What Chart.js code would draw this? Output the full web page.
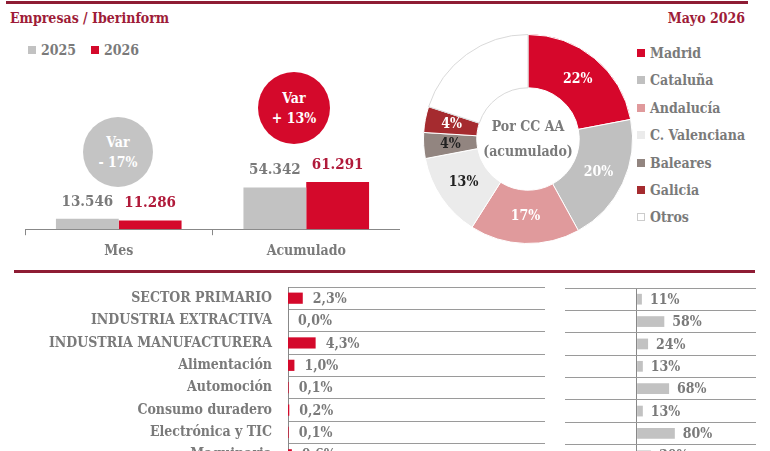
<!DOCTYPE html>
<html>
<head>
<meta charset="utf-8">
<script src="https://cdn.jsdelivr.net/npm/chart.js@4.4.1/dist/chart.umd.min.js"></script>
<style>
  body { margin: 0; width: 770px; height: 451px; overflow: hidden; background: #fff; position: relative;
         font-family: "DejaVu Serif Condensed", "DejaVu Serif", serif; font-weight: bold; color: #777; }
  .rule { position: absolute; height: 3px; background: #8e1c34; }
  .title { position: absolute; top: 10px; font-size: 14px; color: #9e1c38; white-space: nowrap; }
  .legend-item { position: absolute; font-size: 14px; color: #7a7a7a; line-height: 16px; white-space: nowrap; }
  .legend-item i { display: inline-block; width: 8px; height: 8px; margin-right: 5px; vertical-align: 1px; }
  .var { position: absolute; border-radius: 50%; color: #fff; font-size: 14px; text-align: center;
         display: flex; flex-direction: column; justify-content: center; line-height: 20px; }
  canvas { position: absolute; }
</style>
</head>
<body>
<div class="rule" style="left:6px; top:1px; width:742px;"></div>
<div class="title" style="left:10px;">Empresas / Iberinform</div>
<div class="title" style="right:25px;">Mayo 2026</div>

<div class="legend-item" style="left:28px; top:42px;"><i style="background:#c2c2c2"></i>2025</div>
<div class="legend-item" style="left:91px; top:42px;"><i style="background:#d4092b"></i>2026</div>

<div id="var0" class="var" style="left:83px; top:117px; width:70px; height:70px; background:#c4c4c4;"></div>
<div id="var1" class="var" style="left:258px; top:72px; width:72px; height:72px; background:#d4092b;"></div>

<canvas id="bars" width="400" height="208" style="left:0; top:60px;"></canvas>
<canvas id="donut" width="210" height="210" style="left:423px; top:34px;"></canvas>
<div id="regionLegend"></div>

<div class="rule" style="left:14px; top:270px; width:741px;"></div>

<canvas id="sectors" width="550" height="190" style="left:0; top:280px;"></canvas>
<canvas id="variation" width="195" height="190" style="left:565px; top:280px;"></canvas>

<script>
// Mes / Acumulado
const periodLabels = ["Mes", "Acumulado"];
const values2025 = [13546, 54342];
const values2026 = [11286, 61291];
const varLabels = ["- 17%", "+ 13%"];

// Por CC AA (acumulado)
const regionLabels = ["Madrid", "Cataluña", "Andalucía", "C. Valenciana", "Baleares", "Galicia", "Otros"];
const regionShares = [22, 20, 17, 13, 4, 4, 20];

// Sectores
const sectorLabels = ["SECTOR PRIMARIO", "INDUSTRIA EXTRACTIVA", "INDUSTRIA MANUFACTURERA", "Alimentación",
                      "Automoción", "Consumo duradero", "Electrónica y TIC", "Maquinaria"];
const sectorShares = [2.3, 0.0, 4.3, 1.0, 0.1, 0.2, 0.1, 0.6];
const sectorVariation = [11, 58, 24, 13, 68, 13, 80, 30];

const FONT = '"DejaVu Serif Condensed", "DejaVu Serif", serif';
const RED = "#d4092b";
const GRAY = "#c2c2c2";
const TEXT = "#7a7a7a";

function thousands(v) {
    return String(v).replace(/\B(?=(\d{3})+(?!\d))/g, ".");
}

// Var circles
document.getElementById("var0").innerHTML = "<div>Var</div><div>" + varLabels[0] + "</div>";
document.getElementById("var1").innerHTML = "<div>Var</div><div>" + varLabels[1] + "</div>";

// Value labels above the vertical bars
const barValueLabels = {
    id: "barValueLabels",
    afterDatasetsDraw(chart) {
        const ctx = chart.ctx;
        ctx.save();
        ctx.font = "bold 15px " + FONT;
        ctx.textAlign = "center";
        ctx.textBaseline = "middle";
        chart.data.datasets.forEach((ds, i) => {
            chart.getDatasetMeta(i).data.forEach((bar, j) => {
                ctx.fillStyle = ds.valueColor;
                ctx.fillText(thousands(ds.data[j]), bar.x, bar.y - 17);
            });
        });
        ctx.restore();
    }
};

new Chart(document.getElementById("bars"), {
    type: "bar",
    data: {
        labels: periodLabels,
        datasets: [
            { label: "2025", data: values2025, backgroundColor: GRAY, valueColor: TEXT },
            { label: "2026", data: values2026, backgroundColor: RED, valueColor: "#b01a3a" }
        ]
    },
    options: {
        responsive: false,
        animation: false,
        devicePixelRatio: 1,
        layout: { padding: { left: 25, right: 0, top: 0, bottom: 0 } },
        datasets: { bar: { categoryPercentage: 0.67, barPercentage: 1 } },
        plugins: { legend: { display: false }, tooltip: { enabled: false } },
        scales: {
            x: {
                grid: { display: true, drawOnChartArea: false, offset: true, tickLength: 6, color: "#888" },
                border: { color: "#888" },
                ticks: { color: TEXT, padding: 8, font: { family: FONT, size: 14, weight: "bold" } }
            },
            y: { display: false, min: 0, max: 220000 }
        }
    },
    plugins: [barValueLabels]
});

// Doughnut
const sliceColors = ["#d6072b", "#c0c0c0", "#e09a9c", "#ebebeb", "#928580", "#a52b2f", "#ffffff"];
const sliceBorders = ["#fff", "#fff", "#fff", "#fff", "#fff", "#fff", "#d9d9d9"];
const sliceTextColors = ["#fff", "#fff", "#fff", "#222", "#222", "#fff", null];

const sliceLabels = {
    id: "sliceLabels",
    afterDatasetsDraw(chart) {
        const ctx = chart.ctx;
        ctx.save();
        ctx.font = "bold 14px " + FONT;
        ctx.textAlign = "center";
        ctx.textBaseline = "middle";
        chart.getDatasetMeta(0).data.forEach((arc, i) => {
            if (!sliceTextColors[i]) return;
            const p = arc.getCenterPoint();
            ctx.fillStyle = sliceTextColors[i];
            ctx.fillText(regionShares[i] + "%", p.x, p.y);
        });
        const a = chart.chartArea;
        const cx = (a.left + a.right) / 2, cy = (a.top + a.bottom) / 2;
        ctx.fillStyle = TEXT;
        ctx.fillText("Por CC AA", cx, cy - 12);
        ctx.fillText("(acumulado)", cx, cy + 13);
        ctx.restore();
    }
};

new Chart(document.getElementById("donut"), {
    type: "doughnut",
    data: {
        labels: regionLabels,
        datasets: [{ data: regionShares, backgroundColor: sliceColors, borderColor: sliceBorders, borderWidth: 1 }]
    },
    options: {
        responsive: false,
        animation: false,
        devicePixelRatio: 1,
        cutout: "49%",
        plugins: { legend: { display: false }, tooltip: { enabled: false } }
    },
    plugins: [sliceLabels]
});

// Region legend
const legendBox = document.getElementById("regionLegend");
regionLabels.forEach((name, i) => {
    const el = document.createElement("div");
    el.className = "legend-item";
    el.style.left = "637px";
    el.style.top = (45 + i * 27.4) + "px";
    const border = i === regionLabels.length - 1 ? "border:1px solid #ccc; width:6px; height:6px;" : "";
    el.innerHTML = '<i style="background:' + sliceColors[i] + ';' + border + '"></i>' + name;
    legendBox.appendChild(el);
});

// Horizontal bar value labels
function hbarLabels(format, offset) {
    return {
        id: "hbarLabels",
        afterDatasetsDraw(chart) {
            const ctx = chart.ctx;
            ctx.save();
            ctx.font = "bold 14px " + FONT;
            ctx.textAlign = "left";
            ctx.textBaseline = "middle";
            ctx.fillStyle = TEXT;
            const ds = chart.data.datasets[0];
            chart.getDatasetMeta(0).data.forEach((bar, j) => {
                ctx.fillText(format(ds.data[j]), bar.x + offset, bar.y + 1);
            });
            ctx.restore();
        }
    };
}

new Chart(document.getElementById("sectors"), {
    type: "bar",
    data: {
        labels: sectorLabels,
        datasets: [{ data: sectorShares, backgroundColor: RED, categoryPercentage: 1, barPercentage: 0.5 }]
    },
    options: {
        indexAxis: "y",
        responsive: false,
        animation: false,
        devicePixelRatio: 1,
        layout: { padding: { top: 7, right: 5, bottom: 4, left: 0 } },
        plugins: { legend: { display: false }, tooltip: { enabled: false } },
        scales: {
            x: { display: false, min: 0, max: 40 },
            y: {
                afterFit(scale) {
                    scale.width = 288;
                    scale.paddingTop = 0;
                    scale.paddingBottom = 0;
                },
                grid: { offset: true, drawTicks: false, color: "#9a9a9a" },
                border: { color: "#888" },
                ticks: { color: TEXT, padding: 16, font: { family: FONT, size: 14, weight: "bold" } }
            }
        }
    },
    plugins: [hbarLabels(v => v.toFixed(1).replace(".", ",") + "%", 10)]
});

new Chart(document.getElementById("variation"), {
    type: "bar",
    data: {
        labels: sectorLabels,
        datasets: [{ data: sectorVariation, backgroundColor: GRAY, categoryPercentage: 1, barPercentage: 0.48 }]
    },
    options: {
        indexAxis: "y",
        responsive: false,
        animation: false,
        devicePixelRatio: 1,
        layout: { padding: { top: 8, right: 4, bottom: 3, left: 0 } },
        plugins: { legend: { display: false }, tooltip: { enabled: false } },
        scales: {
            x: {
                min: -150, max: 250,
                ticks: { display: false, stepSize: 50 },
                border: { display: false },
                grid: { drawTicks: false, color: c => c.tick && c.tick.value === 0 ? "#888" : "rgba(0,0,0,0)" }
            },
            y: {
                afterFit(scale) { scale.width = 0; },
                ticks: { display: false },
                border: { display: false },
                grid: { offset: true, drawTicks: false, color: "#9a9a9a" }
            }
        }
    },
    plugins: [hbarLabels(v => v + "%", 8)]
});
</script>
</body>
</html>
